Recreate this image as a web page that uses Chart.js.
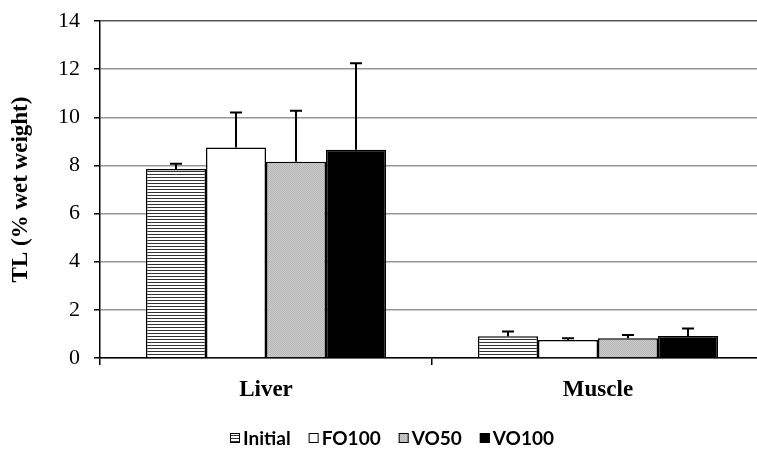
<!DOCTYPE html>
<html>
<head>
<meta charset="utf-8">
<script src="https://cdn.jsdelivr.net/npm/chart.js@4/dist/chart.umd.min.js"></script>
<style>
  html, body { margin: 0; padding: 0; background: #fff; overflow: hidden; }
  #wrap { width: 765px; height: 450px; }
</style>
</head>
<body>
<div id="wrap"><canvas id="chart" width="765" height="450"></canvas></div>
<script>
// Total lipid content by tissue and diet (% wet weight), mean and SD
const categories = ['Liver', 'Muscle'];
const seriesNames = ['Initial', 'FO100', 'VO50', 'VO100'];
const initialMean = [7.85, 0.90];
const initialSd   = [0.22, 0.20];
const fo100Mean   = [8.75, 0.75];
const fo100Sd     = [1.45, 0.07];
const vo50Mean    = [8.15, 0.82];
const vo50Sd      = [2.12, 0.14];
const vo100Mean   = [8.65, 0.91];
const vo100Sd     = [3.60, 0.32];
const yTicks = [0, 2, 4, 6, 8, 10, 12, 14];

// Fill patterns
function makePattern(w, h, paint) {
  const c = document.createElement('canvas');
  c.width = w; c.height = h;
  const g = c.getContext('2d');
  paint(g);
  return g.createPattern(c, 'repeat');
}
const ctx = document.getElementById('chart').getContext('2d');
const hatch = makePattern(1, 3, g => {
  g.fillStyle = '#ffffff'; g.fillRect(0, 0, 1, 3);
  g.fillStyle = '#333333'; g.fillRect(0, 0, 1, 1);
});
const stipple = makePattern(2, 2, g => {
  g.fillStyle = '#c9c9c9'; g.fillRect(0, 0, 2, 2);
  g.fillStyle = '#b8b8b8'; g.fillRect(0, 0, 1, 1); g.fillRect(1, 1, 1, 1);
});

const fills = [hatch, '#ffffff', stipple, '#000000'];
const means = [initialMean, fo100Mean, vo50Mean, vo100Mean];
const sds = [initialSd, fo100Sd, vo50Sd, vo100Sd];

const datasets = seriesNames.map((name, i) => ({
  label: name,
  data: means[i],
  sd: sds[i],
  backgroundColor: fills[i],
  borderColor: '#000000',
  borderWidth: 1.5,
  categoryPercentage: 0.723,
  barPercentage: 1.0
}));

// Upper error whiskers
const errorBars = {
  id: 'errorBars',
  afterDatasetsDraw(chart) {
    const g = chart.ctx;
    const y = chart.scales.y;
    g.save();
    g.strokeStyle = '#000';
    g.lineWidth = 2;
    chart.data.datasets.forEach((ds, di) => {
      const meta = chart.getDatasetMeta(di);
      meta.data.forEach((el, idx) => {
        const top = y.getPixelForValue(ds.data[idx] + ds.sd[idx]);
        g.beginPath();
        g.moveTo(el.x, el.y);
        g.lineTo(el.x, top);
        g.moveTo(el.x - 6, top);
        g.lineTo(el.x + 6, top);
        g.stroke();
      });
    });
    g.restore();
  }
};

// Legend row under the axis
const bottomLegend = {
  id: 'bottomLegend',
  afterDraw(chart) {
    const g = chart.ctx;
    const box = 10, gapText = 3, gapItem = 18;
    g.save();
    g.font = 'bold 19px Lato, "Liberation Sans", sans-serif';
    g.textBaseline = 'middle';
    const items = chart.data.datasets.map(ds => ({
      ds, w: box + gapText + g.measureText(ds.label).width
    }));
    const total = items.reduce((s, it) => s + it.w, 0) + gapItem * (items.length - 1);
    let x = 392 - total / 2;
    const cy = 438;
    items.forEach(it => {
      g.fillStyle = it.ds.backgroundColor;
      g.fillRect(x, cy - box / 2, box, box);
      g.strokeStyle = '#000';
      g.lineWidth = 1;
      g.strokeRect(x + 0.5, cy - box / 2 + 0.5, box - 1, box - 1);
      g.fillStyle = '#000';
      g.fillText(it.ds.label, x + box + gapText, cy + 1);
      x += it.w + gapItem;
    });
    g.restore();
  }
};

new Chart(ctx, {
  type: 'bar',
  data: { labels: categories, datasets },
  plugins: [errorBars, bottomLegend],
  options: {
    responsive: false,
    animation: false,
    devicePixelRatio: 1,
    layout: { padding: { top: 21, right: 1, left: 0, bottom: 0 } },
    plugins: { legend: { display: false }, tooltip: { enabled: false } },
    scales: {
      x: {
        offset: true,
        afterFit(scale) { scale.height = 92; },
        grid: {
          display: true, drawOnChartArea: false, offset: true,
          tickLength: 7, tickColor: '#000', lineWidth: 1.5
        },
        border: { display: true, color: '#000', width: 1.5 },
        ticks: {
          color: '#000', padding: 11,
          font: { family: '"Liberation Serif", "Times New Roman", serif', size: 23, weight: 'bold' }
        }
      },
      y: {
        min: 0, max: 14,
        afterFit(scale) {
          scale.width = 100;
          scale.paddingTop = 0;
          scale.paddingBottom = 0;
        },
        afterBuildTicks(scale) { scale.ticks = yTicks.map(v => ({ value: v })); },
        grid: {
          drawOnChartArea: true,
          color: c => (c.tick && c.tick.value === 14) ? '#555555' : '#959595',
          lineWidth: 1.5,
          tickLength: 6, tickColor: '#000'
        },
        border: { display: true, color: '#000', width: 1.5 },
        ticks: {
          color: '#000', padding: 14,
          font: { family: '"Liberation Serif", "Times New Roman", serif', size: 22 }
        },
        title: {
          display: true, text: 'TL (% wet weight)', color: '#000',
          padding: { top: 7, bottom: 0 },
          font: { family: '"Liberation Serif", "Times New Roman", serif', size: 23, weight: 'bold' }
        }
      }
    }
  }
});
</script>
</body>
</html>
